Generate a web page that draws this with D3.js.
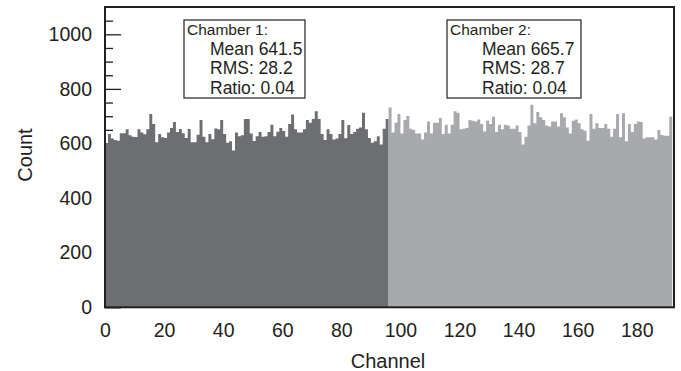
<!DOCTYPE html>
<html><head><meta charset="utf-8">
<script src="https://cdn.jsdelivr.net/npm/d3@7"></script>
<style>
body{margin:0;background:#fff}
svg{display:block}
text{font-family:"Liberation Sans",Arial,Helvetica,sans-serif;fill:#231f20}
</style>
</head><body>
<svg id="chart" width="681" height="371"></svg>
<script>
// ---- data ----
const chamber1Counts = [
600,635,618,613,610,638,638,652,630,625,
624,652,640,634,652,708,671,605,635,623,
620,640,657,679,642,653,638,620,653,605,
605,632,686,625,605,635,616,655,652,686,
635,603,608,574,640,627,630,690,690,637,
609,627,642,625,627,642,669,627,643,657,
646,625,671,706,652,640,640,652,686,676,
690,718,690,635,613,652,635,615,618,635,
686,619,668,635,642,654,659,713,652,620,
603,608,627,596,654,690];
const chamber2Counts = [
732,640,676,708,637,686,701,654,649,637,
637,615,640,681,637,676,676,693,635,669,
637,669,718,713,652,654,657,686,683,681,
688,671,644,683,671,698,642,669,652,669,
666,654,654,666,642,596,625,666,742,674,
715,696,686,666,662,681,681,662,711,696,
659,637,683,688,674,652,647,610,708,654,
674,657,657,671,654,625,654,708,623,711,
608,671,642,671,681,679,618,623,623,623,
615,649,631,628,628,698];
const xTickValues = [0,20,40,60,80,100,120,140,160,180];
const yTickValues = [0,200,400,600,800,1000];
const statTitles = ["Chamber 1:","Chamber 2:"];
const statMeans = ["641.5","665.7"];
const statRMS = ["28.2","28.7"];
const statRatios = ["0.04","0.04"];

// ---- layout ----
const svg = d3.select("#chart");
const L = 105, R = 674, T = 7, B = 307.3;
const x = d3.scaleLinear().domain([0,192.6]).range([L,R]);
const y = d3.scaleLinear().domain([0,1100]).range([B,T]);
const colors = ["#6d6e72","#a8a9ad"];

// minor ticks
const minor = d3.range(50,1100,50).filter(v=>v%200!==0);
svg.append("g").attr("transform",`translate(${L},0)`)
  .call(d3.axisLeft(y).tickValues(minor).tickSize(-8).tickFormat(""))
  .call(g=>g.select(".domain").remove())
  .call(g=>g.selectAll("line").attr("stroke","#231f20").attr("stroke-width",1.3));
// major ticks + labels
svg.append("g").attr("transform",`translate(${L},0)`)
  .call(d3.axisLeft(y).tickValues(yTickValues).tickSize(-16).tickPadding(13).tickFormat(d3.format("d")))
  .call(g=>g.select(".domain").remove())
  .call(g=>g.selectAll("line").attr("stroke","#231f20").attr("stroke-width",1.3))
  .call(g=>g.selectAll("text").attr("font-size",19.5).attr("font-family","Liberation Sans, Arial, sans-serif").attr("fill","#231f20"));

// histogram bars as step areas (one per chamber)
const series = [
  chamber1Counts.map((v,i)=>({i, v})),
  chamber2Counts.map((v,i)=>({i:i+chamber1Counts.length, v}))
];
const area = d3.area().curve(d3.curveStepAfter)
  .x(d=>x(d.i)).y0(y(0)).y1(d=>y(d.v));
series.forEach((s,k)=>{
  const pts = s.concat([{i:s[s.length-1].i+1, v:s[s.length-1].v}]);
  svg.append("path").datum(pts).attr("d",area).attr("fill",colors[k]);
});

// x axis labels
svg.append("g").attr("transform",`translate(0,${B})`)
  .call(d3.axisBottom(x).tickValues(xTickValues).tickSize(0).tickPadding(16).tickFormat(d3.format("d")))
  .call(g=>g.select(".domain").remove())
  .call(g=>g.selectAll("text").attr("font-size",19.5).attr("font-family","Liberation Sans, Arial, sans-serif").attr("fill","#231f20"));

// frame
svg.append("rect").attr("x",L).attr("y",T).attr("width",R-L).attr("height",B-T)
  .attr("fill","none").attr("stroke","#231f20").attr("stroke-width",2);

// axis titles
svg.append("text").attr("x",388).attr("y",368).attr("text-anchor","middle")
  .attr("font-size",20).text("Channel");
svg.append("text").attr("transform","translate(32,155) rotate(-90)").attr("text-anchor","middle")
  .attr("font-size",20).text("Count");

// stat boxes
const boxes = [{x0:184,x1:305,ind:26},{x0:447,x1:581,ind:35}];
boxes.forEach((b,k)=>{
  const g = svg.append("g");
  g.append("rect").attr("x",b.x0).attr("y",20).attr("width",b.x1-b.x0).attr("height",78)
    .attr("fill","#fff").attr("stroke","#231f20").attr("stroke-width",1.2);
  const lines = [statTitles[k],"Mean "+statMeans[k],"RMS: "+statRMS[k],"Ratio: "+statRatios[k]];
  const bl = [35,55,74,93.5];
  lines.forEach((t,j)=>{
    g.append("text").attr("x",b.x0+(j===0?3:b.ind)).attr("y",bl[j])
      .attr("font-size",j===0?15.5:17.5).text(t);
  });
});
</script>
</body></html>
